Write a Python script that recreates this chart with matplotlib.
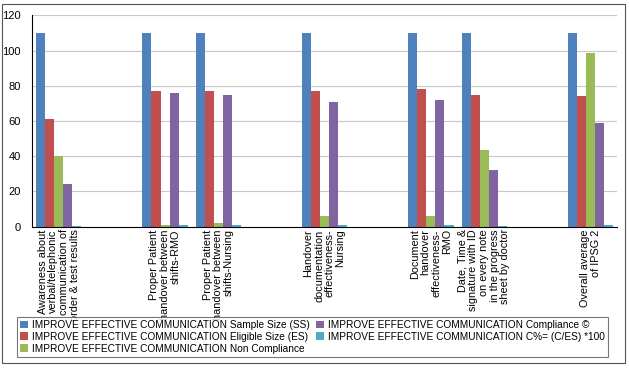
import numpy as np
import matplotlib
matplotlib.use('Agg')
import matplotlib.pyplot as plt
from matplotlib.patches import Rectangle

plt.rcParams['font.family'] = ['Liberation Sans', 'DejaVu Sans']

# categories (blank slots are empty columns in the original sheet)
categories = ['Awareness about\nverbal/telephonic\ncommunication of\norder & test results',
              '',
              'Proper Patient\nhandover between\nshifts-RMO',
              'Proper Patient\nhandover between\nshifts-Nursing',
              '',
              'Handover\ndocumentation\neffectiveness-\nNursing',
              '',
              'Document\nhandover\neffectiveness-\nRMO',
              'Date, Time &\nsignature with ID\non every note\nin the progress\nsheet by doctor',
              '',
              'Overall average\nof IPSG 2']
nan = np.nan
sample_size = [110, nan, 110, 110, nan, 110, nan, 110, 110, nan, 110]
eligible_size = [61, nan, 77, 77, nan, 77, nan, 78, 75, nan, 74]
non_compliance = [40, nan, 1, 2, nan, 6, nan, 6, 43.5, nan, 98.5]
compliance = [24, nan, 76, 75, nan, 71, nan, 72, 32, nan, 59]
c_percent = [0.39, nan, 0.99, 0.97, nan, 0.92, nan, 0.92, 0.43, nan, 0.8]

series = [
    ('IMPROVE EFFECTIVE COMMUNICATION Sample Size (SS)', sample_size, '#4F81BD'),
    ('IMPROVE EFFECTIVE COMMUNICATION Eligible Size (ES)', eligible_size, '#C0504D'),
    ('IMPROVE EFFECTIVE COMMUNICATION Non Compliance', non_compliance, '#9BBB59'),
    ('IMPROVE EFFECTIVE COMMUNICATION Compliance \u00a9', compliance, '#8064A2'),
    ('IMPROVE EFFECTIVE COMMUNICATION C%= (C/ES) *100', c_percent, '#4BACC6'),
]

fig = plt.figure(figsize=(6.29, 3.69), dpi=100)
ax = fig.add_axes([0.051, 0.386, 0.930, 0.572])

x = np.arange(len(categories))
w = 0.17
for i, (name, vals, col) in enumerate(series):
    ax.bar(x + (i - 2) * w, vals, w, color=col, label=name)

ax.set_xlim(-0.5, len(categories) - 0.5)
ax.set_ylim(0, 120)
ax.set_yticks(range(0, 121, 20))
ax.yaxis.grid(True, color='#c8c8c8', linewidth=0.8)
ax.set_axisbelow(True)
ax.set_xticks(x)
ax.set_xticklabels(categories, rotation=90, ha='center', va='top',
                   multialignment='right', linespacing=1.08, fontsize=7.8)
ax.tick_params(axis='both', length=0)
ax.tick_params(axis='y', labelsize=8, pad=8)
ax.tick_params(axis='x', pad=2)
for s in ['top', 'right']:
    ax.spines[s].set_visible(False)
ax.spines['left'].set_color('black')
ax.spines['bottom'].set_color('black')

h, l = ax.get_legend_handles_labels()
leg = fig.legend(h, l, ncol=2, loc='upper left', bbox_to_anchor=(0.027, 1 - 317 / 369),
                 fontsize=7.3, frameon=True, fancybox=False, edgecolor='#555555',
                 handlelength=0.8, handleheight=0.8, handletextpad=0.4,
                 labelspacing=0.18, columnspacing=0.6, borderpad=0.3,
                 borderaxespad=0)
leg.get_frame().set_linewidth(0.8)

# outer chart border
fig.patches.append(Rectangle((2 / 629, 6 / 369), 623 / 629, 359 / 369, transform=fig.transFigure,
                             fill=False, edgecolor='#555555', linewidth=0.8))

fig.savefig('out.png', dpi=100)
